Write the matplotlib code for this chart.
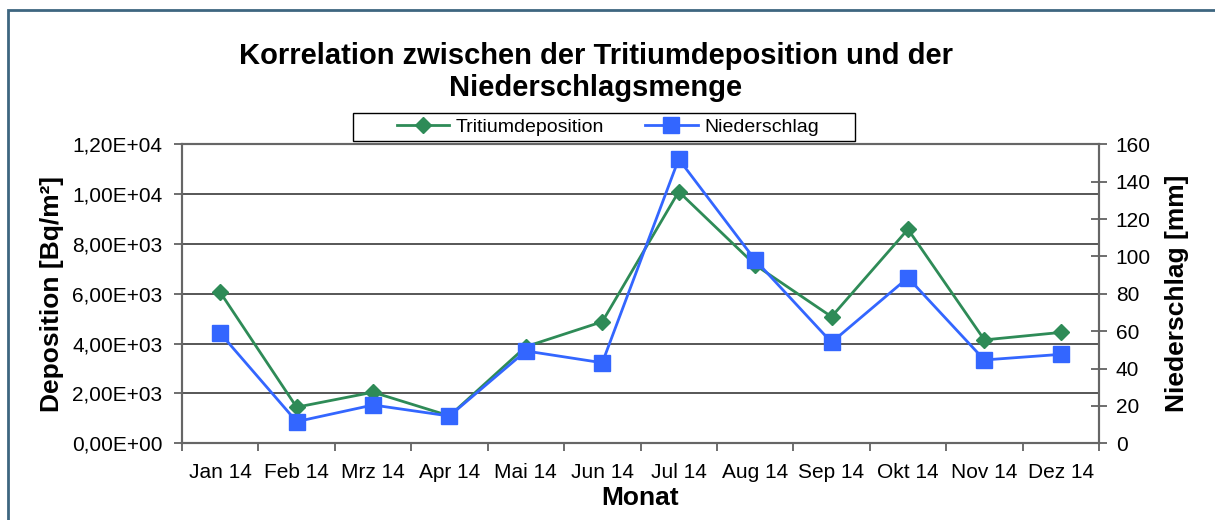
import matplotlib.pyplot as plt
import matplotlib.patches as patches
from matplotlib.ticker import FuncFormatter, FixedLocator
import numpy as np

# Monthly data 2014
months = ['Jan 14', 'Feb 14', 'Mrz 14', 'Apr 14', 'Mai 14', 'Jun 14',
          'Jul 14', 'Aug 14', 'Sep 14', 'Okt 14', 'Nov 14', 'Dez 14']

tritium = [6060, 1450, 2050, 1100, 3880, 4880,
           10100, 7160, 5080, 8590, 4150, 4450]      # Bq/m²

niederschlag = [58.9, 11.6, 20.5, 14.6, 49.4, 43.1,
                152.1, 98.1, 54.0, 88.6, 44.6, 47.6]  # mm

plt.rcParams['font.family'] = ['Liberation Sans', 'DejaVu Sans']
plt.rcParams['font.size'] = 15

fig = plt.figure(figsize=(12.15, 5.2), dpi=100, facecolor='white')
ax = fig.add_axes([182 / 1215, 1 - 443.3 / 520, (1099 - 182) / 1215, 299 / 520])

green = '#2e8b57'
blue = '#3366ff'
x = np.arange(len(months))

l1, = ax.plot(x, tritium, color=green, linewidth=2, marker='D', markersize=8,
              markerfacecolor=green, markeredgecolor=green, label='Tritiumdeposition')
ax.set_ylim(0, 12000)
ax.set_yticks(np.arange(0, 12001, 2000))
ax.yaxis.set_major_formatter(FuncFormatter(lambda v, p: f'{v:.2E}'.replace('.', ',')))
ax.set_xlim(-0.5, len(months) - 0.5)
ax.xaxis.set_major_locator(FixedLocator(np.arange(-0.5, len(months), 1)))
ax.xaxis.set_major_formatter(FuncFormatter(lambda v, p: ''))
ax.xaxis.set_minor_locator(FixedLocator(x))
ax.set_xticklabels(months, minor=True)
ax.tick_params(axis='x', which='minor', length=0, pad=14)
ax.tick_params(axis='x', which='major', length=6, width=1.2, color='#555555')
ax.tick_params(axis='y', length=6, width=1.2, color='#555555', pad=8)

ax.grid(True, axis='y', color='#3a3a3a', linewidth=1.2)
ax.set_axisbelow(True)
for s in ax.spines.values():
    s.set_color('#666666')
    s.set_linewidth(1.5)

ax.set_ylabel('Deposition [Bq/m²]', fontsize=19, fontweight='bold', labelpad=6)
ax.set_xlabel('Monat', fontsize=19, fontweight='bold', labelpad=3)

ax2 = ax.twinx()
l2, = ax2.plot(x, niederschlag, color=blue, linewidth=2, marker='s', markersize=11,
               markerfacecolor=blue, markeredgecolor=blue, label='Niederschlag')
ax2.set_ylim(0, 160)
ax2.set_yticks(np.arange(0, 161, 20))
ax2.tick_params(axis='y', direction='inout', length=12, width=1.2, color='#555555', pad=6)
for s in ax2.spines.values():
    s.set_color('#666666')
    s.set_linewidth(1.5)
ax2.set_ylabel('Niederschlag [mm]', fontsize=19, fontweight='bold', labelpad=10)

# Title
fig.text(596 / 1215, 1 - 72 / 520,
         'Korrelation zwischen der Tritiumdeposition und der\nNiederschlagsmenge',
         ha='center', va='center', fontsize=21, fontweight='bold', linespacing=1.15)

# Legend (frame drawn separately)
leg = fig.legend([l1, l2], ['Tritiumdeposition', 'Niederschlag'],
                 bbox_to_anchor=(608 / 1215, 1 - 127 / 520),
                 loc='center', ncol=2, fontsize=14, frameon=False,
                 handlelength=2.7, handletextpad=0.35, columnspacing=2.1,
                 borderpad=0, borderaxespad=0)
fig.patches.append(patches.Rectangle((353 / 1215, 1 - 141 / 520), 502 / 1215, 28 / 520,
                                     transform=fig.transFigure, facecolor='white',
                                     edgecolor='black', linewidth=1.0, zorder=5))
leg.set_zorder(10)

# Outer frame
fig.patches.append(patches.Rectangle((8 / 1215, -0.1), 1.2, 1 - 10 / 520 + 0.1,
                                     transform=fig.transFigure, fill=False,
                                     edgecolor='#3d6680', linewidth=2))

plt.savefig('out.png', dpi=100, facecolor='white')
